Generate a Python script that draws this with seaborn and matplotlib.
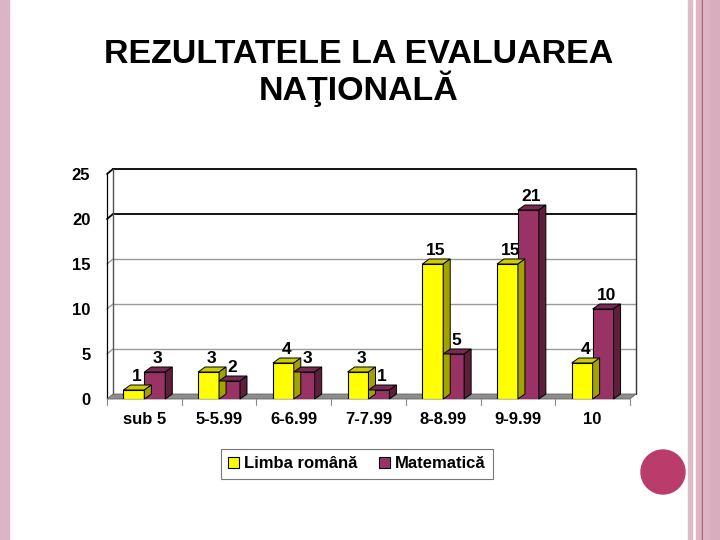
import matplotlib
matplotlib.use('Agg')
import matplotlib.pyplot as plt
from matplotlib.patches import Polygon, Rectangle, Circle
import pandas as pd
import seaborn as sns

# Datele graficului
categorii = ['sub 5', '5-5.99', '6-6.99', '7-7.99', '8-8.99', '9-9.99', '10']
limba_romana = [1, 3, 4, 3, 15, 15, 4]
matematica = [3, 2, 3, 1, 5, 21, 10]
serii = ['Limba română', 'Matematică']
titlu = ['REZULTATELE LA EVALUAREA', 'NAŢIONALĂ']
y_ticks = [0, 5, 10, 15, 20, 25]

culori = {'Limba română': '#FFFF00', 'Matematică': '#993366'}
culori_sus = {'Limba română': '#CCCC00', 'Matematică': '#7A2952'}
culori_lateral = {'Limba română': '#A3A300', 'Matematică': '#5E1F3D'}

df = pd.DataFrame({
    'Categorie': categorii * 2,
    'Valoare': limba_romana + matematica,
    'Materie': [serii[0]] * len(categorii) + [serii[1]] * len(categorii),
})

sns.set_style('white')
plt.rcParams['font.family'] = ['Liberation Sans', 'DejaVu Sans']
for k in ['text.color', 'axes.labelcolor', 'xtick.color', 'ytick.color']:
    plt.rcParams[k] = 'black'

fig = plt.figure(figsize=(7.2, 5.4), dpi=100)
W, H = 720, 540

# Decor laterale
fig.patches.append(Rectangle((0, 0), 9 / W, 1, transform=fig.transFigure,
                             color='#DBB5C4', zorder=0))
for x0, x1, c in [(688, 692, '#E0BCC9'), (696, 702, '#DDB6C4'),
                  (702, 703, '#A24C72'), (703, 710, '#DDB6C4'),
                  (710, 720, '#D6AEBE')]:
    fig.patches.append(Rectangle((x0 / W, 0), (x1 - x0) / W, 1,
                                 transform=fig.transFigure, color=c, zorder=0))
fig.patches.append(Circle((663, H - 472), 22, transform=None,
                          color='#BA3C6B', zorder=0))

# titlul, fiecare rand pe linia de baza
for rand, y_baza in zip(titlu, [63, 100]):
    fig.text(359 / W, 1 - y_baza / H, rand, ha='center', va='baseline',
             fontsize=24.5, fontweight='bold', color='black')

# Axa = planul din fata
left, right, bottom, top = 107, 630, 399, 174
ax = fig.add_axes([left / W, 1 - bottom / H, (right - left) / W, (bottom - top) / H])
ax.patch.set_alpha(0)

sns.barplot(data=df, x='Categorie', y='Valoare', hue='Materie',
            palette=culori, saturation=1, width=0.56, gap=0, edgecolor='black',
            linewidth=0.8, ax=ax, legend=False, zorder=5)

ax.set_xlim(-0.5, len(categorii) - 0.5)
ax.set_ylim(0, 25)
ax.set_yticks(y_ticks)
ax.set_xticks([])
ax.set_xlabel('')
ax.set_ylabel('')
for s in ax.spines.values():
    s.set_visible(False)
ax.tick_params(axis='y', length=4, width=0.8, color='black', pad=8,
               labelsize=12)
for lbl in ax.get_yticklabels():
    lbl.set_fontweight('bold')

dx, dy = 6, 5
T = ax.transData


def disp(x, y):
    return T.transform((x, y))


def linie(p, q, **kw):
    ax.add_line(plt.Line2D([p[0], q[0]], [p[1], q[1]], transform=None,
                           clip_on=False, **kw))


x_min, x_max = -0.5, len(categorii) - 0.5
# peretele din spate si gridline
for v in y_ticks[1:]:
    a = disp(x_min, v) + (dx, dy)
    b = disp(x_max, v) + (dx, dy)
    negru = v in (20, 25)
    culoare = 'black' if negru else '#9A9A9A'
    lw = 1.3 if negru else 1.0
    linie(a, b, color=culoare, lw=lw, zorder=1)
    linie(disp(x_min, v), a, color=culoare, lw=lw, zorder=1)
# marginile peretelui din spate
p0 = disp(x_min, 0) + (dx, dy)
p1 = disp(x_max, 0) + (dx, dy)
p2 = disp(x_max, 25) + (dx, dy)
p3 = disp(x_min, 25) + (dx, dy)
linie(p0, p3, color='#555555', lw=1.0, zorder=1)
linie(p1, p2, color='#333333', lw=1.0, zorder=1)
f0 = disp(x_min, 0)
f3 = disp(x_min, 25)
linie(f0, f3, color='black', lw=0.9, zorder=2)
# podeaua
f1 = disp(x_max, 0)
ax.add_patch(Polygon([f0, f1, p1, p0], closed=True, transform=None,
                     facecolor='#8C8C8C', edgecolor='#666666', lw=0.6, zorder=2,
                     clip_on=False))

# tick-uri pe axa X intre categorii
for i in range(len(categorii) + 1):
    p = disp(i - 0.5, 0)
    linie(p, p - (0, 6), color='#888888', lw=0.8, zorder=2)
for i, c in enumerate(categorii):
    ax.text(i, -1.5, c, ha='center', va='top', fontsize=12, fontweight='bold',
            transform=T, clip_on=False)

# fete 3D pentru bare si etichete
ordine_serii = [serii[0]] * len(categorii) + [serii[1]] * len(categorii)
for patch, serie in zip(ax.patches[:len(ordine_serii)], ordine_serii):
    x0, y0 = patch.get_x(), patch.get_y()
    w, h = patch.get_width(), patch.get_height()
    a = disp(x0, y0 + h)
    b = disp(x0 + w, y0 + h)
    c0 = disp(x0 + w, y0)
    sus = [a, b, b + (dx + 1, dy), a + (dx + 1, dy)]
    lat = [c0, b, b + (dx + 1, dy), c0 + (dx + 1, dy)]
    ax.add_patch(Polygon(sus, closed=True, transform=None, facecolor=culori_sus[serie],
                         edgecolor='black', lw=0.7, zorder=6, clip_on=False))
    ax.add_patch(Polygon(lat, closed=True, transform=None, facecolor=culori_lateral[serie],
                         edgecolor='black', lw=0.7, zorder=6, clip_on=False))
    ax.annotate(f'{int(h)}', (x0 + w / 2, y0 + h), xytext=(3, 6),
                textcoords='offset pixels', ha='center', va='bottom',
                fontsize=12.5, fontweight='bold', zorder=8)

# legenda
handles = [Rectangle((0, 0), 1, 1, facecolor=culori[s], edgecolor='black', lw=0.8)
           for s in serii]
leg = fig.legend(handles, serii, loc='center', bbox_to_anchor=(357 / W, 1 - 463.5 / H),
                 ncol=2, frameon=True, fancybox=False, shadow=False,
                 prop={'weight': 'bold', 'size': 12}, handlelength=0.65,
                 handleheight=0.65, handletextpad=0.3, columnspacing=1.3,
                 borderpad=0.45, borderaxespad=0)
leg.get_frame().set_edgecolor('#555555')
leg.get_frame().set_linewidth(0.8)

fig.savefig('out.png', dpi=100)
